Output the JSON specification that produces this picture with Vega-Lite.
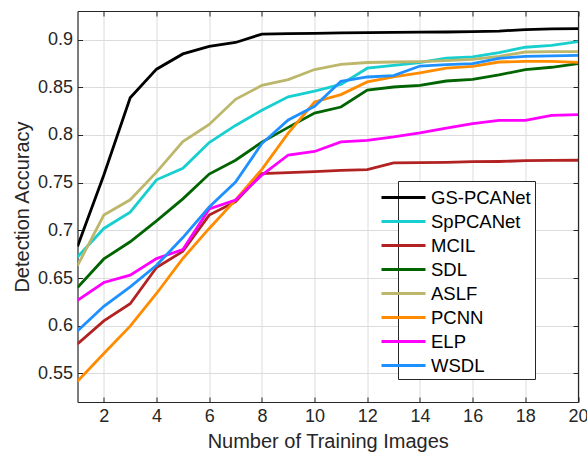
{
  "$schema": "https://vega.github.io/schema/vega-lite/v6.json",
  "width": 500.5,
  "height": 391,
  "autosize": {"type": "none"},
  "padding": {"left": 77.5, "top": 11, "right": 9, "bottom": 59},
  "background": "white",
  "config": {
    "font": "Liberation Sans",
    "view": {"stroke": null},
    "axis": {
      "domainColor": "#262626",
      "domainWidth": 1.2,
      "tickColor": "#262626",
      "tickSize": -5,
      "tickWidth": 1,
      "gridColor": "#dcdcdc",
      "gridWidth": 1,
      "labelFontSize": 18,
      "labelColor": "#262626",
      "labelFlush": false,
      "titleFontSize": 20,
      "titleFontWeight": "normal",
      "titleColor": "#262626"
    }
  },
  "datasets": {
    "acc": [
      {"m":"GS-PCANet","n":1,"a":0.683},{"m":"GS-PCANet","n":2,"a":0.758},{"m":"GS-PCANet","n":3,"a":0.839},{"m":"GS-PCANet","n":4,"a":0.869},{"m":"GS-PCANet","n":5,"a":0.885},{"m":"GS-PCANet","n":6,"a":0.893},{"m":"GS-PCANet","n":7,"a":0.897},{"m":"GS-PCANet","n":8,"a":0.9058},{"m":"GS-PCANet","n":9,"a":0.9062},{"m":"GS-PCANet","n":10,"a":0.9066},{"m":"GS-PCANet","n":11,"a":0.907},{"m":"GS-PCANet","n":12,"a":0.9074},{"m":"GS-PCANet","n":13,"a":0.9076},{"m":"GS-PCANet","n":14,"a":0.9078},{"m":"GS-PCANet","n":15,"a":0.908},{"m":"GS-PCANet","n":16,"a":0.9084},{"m":"GS-PCANet","n":17,"a":0.909},{"m":"GS-PCANet","n":18,"a":0.9105},{"m":"GS-PCANet","n":19,"a":0.9112},{"m":"GS-PCANet","n":20,"a":0.9115},
      {"m":"SpPCANet","n":1,"a":0.672},{"m":"SpPCANet","n":2,"a":0.702},{"m":"SpPCANet","n":3,"a":0.719},{"m":"SpPCANet","n":4,"a":0.753},{"m":"SpPCANet","n":5,"a":0.765},{"m":"SpPCANet","n":6,"a":0.792},{"m":"SpPCANet","n":7,"a":0.81},{"m":"SpPCANet","n":8,"a":0.826},{"m":"SpPCANet","n":9,"a":0.84},{"m":"SpPCANet","n":10,"a":0.846},{"m":"SpPCANet","n":11,"a":0.853},{"m":"SpPCANet","n":12,"a":0.87},{"m":"SpPCANet","n":13,"a":0.873},{"m":"SpPCANet","n":14,"a":0.876},{"m":"SpPCANet","n":15,"a":0.8805},{"m":"SpPCANet","n":16,"a":0.8818},{"m":"SpPCANet","n":17,"a":0.8864},{"m":"SpPCANet","n":18,"a":0.892},{"m":"SpPCANet","n":19,"a":0.894},{"m":"SpPCANet","n":20,"a":0.898},
      {"m":"MCIL","n":1,"a":0.581},{"m":"MCIL","n":2,"a":0.605},{"m":"MCIL","n":3,"a":0.623},{"m":"MCIL","n":4,"a":0.661},{"m":"MCIL","n":5,"a":0.678},{"m":"MCIL","n":6,"a":0.716},{"m":"MCIL","n":7,"a":0.73},{"m":"MCIL","n":8,"a":0.7595},{"m":"MCIL","n":9,"a":0.7605},{"m":"MCIL","n":10,"a":0.7615},{"m":"MCIL","n":11,"a":0.7628},{"m":"MCIL","n":12,"a":0.7637},{"m":"MCIL","n":13,"a":0.7707},{"m":"MCIL","n":14,"a":0.771},{"m":"MCIL","n":15,"a":0.7713},{"m":"MCIL","n":16,"a":0.772},{"m":"MCIL","n":17,"a":0.7722},{"m":"MCIL","n":18,"a":0.773},{"m":"MCIL","n":19,"a":0.7733},{"m":"MCIL","n":20,"a":0.7735},
      {"m":"SDL","n":1,"a":0.64},{"m":"SDL","n":2,"a":0.67},{"m":"SDL","n":3,"a":0.688},{"m":"SDL","n":4,"a":0.71},{"m":"SDL","n":5,"a":0.733},{"m":"SDL","n":6,"a":0.759},{"m":"SDL","n":7,"a":0.7735},{"m":"SDL","n":8,"a":0.7925},{"m":"SDL","n":9,"a":0.808},{"m":"SDL","n":10,"a":0.823},{"m":"SDL","n":11,"a":0.8293},{"m":"SDL","n":12,"a":0.847},{"m":"SDL","n":13,"a":0.8503},{"m":"SDL","n":14,"a":0.852},{"m":"SDL","n":15,"a":0.8566},{"m":"SDL","n":16,"a":0.8584},{"m":"SDL","n":17,"a":0.863},{"m":"SDL","n":18,"a":0.8686},{"m":"SDL","n":19,"a":0.871},{"m":"SDL","n":20,"a":0.8748},
      {"m":"ASLF","n":1,"a":0.663},{"m":"ASLF","n":2,"a":0.716},{"m":"ASLF","n":3,"a":0.732},{"m":"ASLF","n":4,"a":0.761},{"m":"ASLF","n":5,"a":0.793},{"m":"ASLF","n":6,"a":0.811},{"m":"ASLF","n":7,"a":0.8374},{"m":"ASLF","n":8,"a":0.852},{"m":"ASLF","n":9,"a":0.858},{"m":"ASLF","n":10,"a":0.8686},{"m":"ASLF","n":11,"a":0.874},{"m":"ASLF","n":12,"a":0.876},{"m":"ASLF","n":13,"a":0.8765},{"m":"ASLF","n":14,"a":0.877},{"m":"ASLF","n":15,"a":0.878},{"m":"ASLF","n":16,"a":0.8793},{"m":"ASLF","n":17,"a":0.8825},{"m":"ASLF","n":18,"a":0.887},{"m":"ASLF","n":19,"a":0.8874},{"m":"ASLF","n":20,"a":0.8874},
      {"m":"PCNN","n":1,"a":0.5417},{"m":"PCNN","n":2,"a":0.5709},{"m":"PCNN","n":3,"a":0.5995},{"m":"PCNN","n":4,"a":0.6338},{"m":"PCNN","n":5,"a":0.6705},{"m":"PCNN","n":6,"a":0.702},{"m":"PCNN","n":7,"a":0.732},{"m":"PCNN","n":8,"a":0.764},{"m":"PCNN","n":9,"a":0.802},{"m":"PCNN","n":10,"a":0.8346},{"m":"PCNN","n":11,"a":0.8423},{"m":"PCNN","n":12,"a":0.8556},{"m":"PCNN","n":13,"a":0.861},{"m":"PCNN","n":14,"a":0.865},{"m":"PCNN","n":15,"a":0.8702},{"m":"PCNN","n":16,"a":0.872},{"m":"PCNN","n":17,"a":0.8765},{"m":"PCNN","n":18,"a":0.8772},{"m":"PCNN","n":19,"a":0.8772},{"m":"PCNN","n":20,"a":0.8762},
      {"m":"ELP","n":1,"a":0.6267},{"m":"ELP","n":2,"a":0.6453},{"m":"ELP","n":3,"a":0.653},{"m":"ELP","n":4,"a":0.6704},{"m":"ELP","n":5,"a":0.6799},{"m":"ELP","n":6,"a":0.7225},{"m":"ELP","n":7,"a":0.7318},{"m":"ELP","n":8,"a":0.758},{"m":"ELP","n":9,"a":0.779},{"m":"ELP","n":10,"a":0.7827},{"m":"ELP","n":11,"a":0.7927},{"m":"ELP","n":12,"a":0.7944},{"m":"ELP","n":13,"a":0.7979},{"m":"ELP","n":14,"a":0.8021},{"m":"ELP","n":15,"a":0.8073},{"m":"ELP","n":16,"a":0.812},{"m":"ELP","n":17,"a":0.8154},{"m":"ELP","n":18,"a":0.8154},{"m":"ELP","n":19,"a":0.8206},{"m":"ELP","n":20,"a":0.8214},
      {"m":"WSDL","n":1,"a":0.5945},{"m":"WSDL","n":2,"a":0.6204},{"m":"WSDL","n":3,"a":0.6407},{"m":"WSDL","n":4,"a":0.6634},{"m":"WSDL","n":5,"a":0.6924},{"m":"WSDL","n":6,"a":0.7245},{"m":"WSDL","n":7,"a":0.7507},{"m":"WSDL","n":8,"a":0.791},{"m":"WSDL","n":9,"a":0.8157},{"m":"WSDL","n":10,"a":0.830},{"m":"WSDL","n":11,"a":0.8563},{"m":"WSDL","n":12,"a":0.8608},{"m":"WSDL","n":13,"a":0.8623},{"m":"WSDL","n":14,"a":0.8723},{"m":"WSDL","n":15,"a":0.8738},{"m":"WSDL","n":16,"a":0.8748},{"m":"WSDL","n":17,"a":0.8804},{"m":"WSDL","n":18,"a":0.8825},{"m":"WSDL","n":19,"a":0.8829},{"m":"WSDL","n":20,"a":0.8835}
    ]
  },
  "data": {"name": "acc"},
  "layer": [
    {
      "mark": {"type": "line", "strokeWidth": 2.8, "clip": true},
      "encoding": {
        "x": {
          "field": "n", "type": "quantitative",
          "scale": {"domain": [1, 20], "nice": false, "zero": false},
          "axis": {"orient": "bottom", "title": "Number of Training Images", "values": [2,4,6,8,10,12,14,16,18,20], "labelPadding": 10, "titlePadding": 6, "grid": true}
        },
        "y": {
          "field": "a", "type": "quantitative",
          "scale": {"domain": [0.52, 0.93], "nice": false, "zero": false},
          "axis": {"orient": "left", "title": "Detection Accuracy", "values": [0.55,0.6,0.65,0.7,0.75,0.8,0.85,0.9], "format": ".2~f", "labelPadding": 10, "titlePadding": 5, "grid": true}
        },
        "color": {
          "field": "m", "type": "nominal",
          "scale": {
            "domain": ["GS-PCANet","SpPCANet","MCIL","SDL","ASLF","PCNN","ELP","WSDL"],
            "range": ["#000000","#17CFCF","#B22222","#006400","#BDB76B","#FF8C00","#FF00FF","#1E90FF"]
          },
          "legend": {
            "orient": "none", "legendX": 320.5, "legendY": 170,
            "title": null,
            "strokeColor": "#262626", "fillColor": "white",
            "padding": 4,
            "labelFontSize": 18.5, "labelColor": "#000000",
            "symbolType": "M-3,0H1", "symbolSize": 484, "symbolStrokeWidth": 3,
            "labelOffset": 4, "rowPadding": 2
          }
        }
      }
    },
    {
      "mark": {"type": "point", "opacity": 0},
      "encoding": {
        "x": {
          "field": "n", "type": "quantitative",
          "axis": {"orient": "top", "title": null, "labels": false, "grid": false, "values": [2,4,6,8,10,12,14,16,18,20]}
        },
        "y": {
          "field": "a", "type": "quantitative",
          "axis": {"orient": "right", "title": null, "labels": false, "grid": false, "values": [0.55,0.6,0.65,0.7,0.75,0.8,0.85,0.9]}
        }
      }
    }
  ],
  "resolve": {"axis": {"x": "independent", "y": "independent"}}
}
